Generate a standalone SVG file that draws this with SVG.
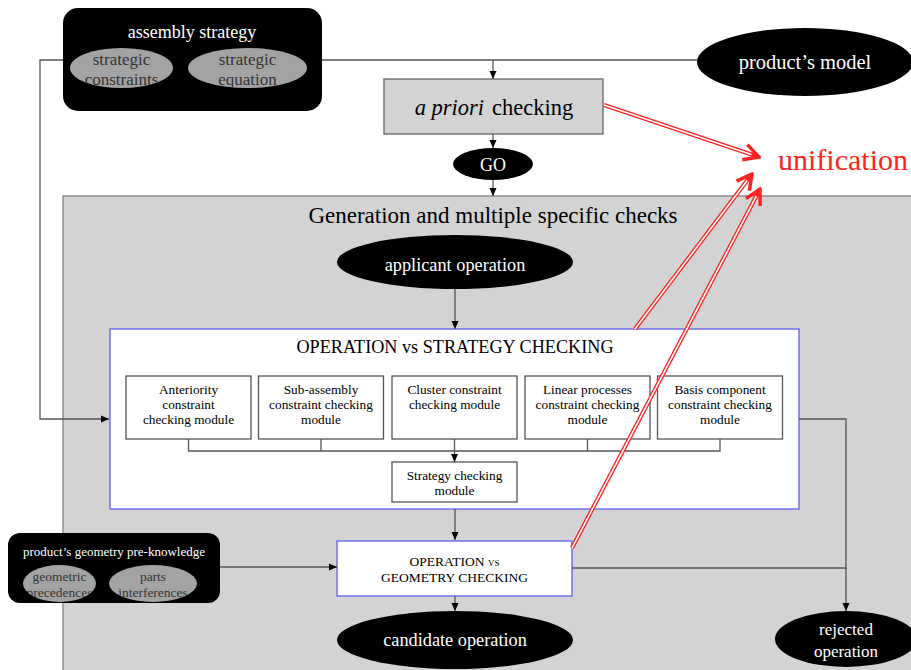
<svg xmlns="http://www.w3.org/2000/svg" width="911" height="670" viewBox="0 0 911 670" font-family="'Liberation Serif', Tinos, 'DejaVu Serif', 'Noto Serif', serif">
<style>
text{font-family:"Liberation Serif",Tinos,"DejaVu Serif","Noto Serif",serif;text-anchor:middle}
.blk{fill:#000}
.wt{fill:#fff}
.oval{fill:#a3a3a3}
.ot{fill:#333}
.mod{fill:#fff;stroke:#555;stroke-width:1.3}
.blue{fill:#fff;stroke:#7070f0;stroke-width:1.5}
.con{fill:none;stroke:#555;stroke-width:1.3}
.arr{marker-end:url(#ah)}
.rr{fill:none;stroke:#f22;stroke-width:4.2;marker-end:url(#ch)}
.rw{fill:none;stroke:#fff;stroke-width:1.6}
</style>
<defs>
<marker id="ah" viewBox="-9 -5 10 10" refX="0" refY="0" markerWidth="10" markerHeight="10" markerUnits="userSpaceOnUse" orient="auto">
<path d="M0,0 L-8,-3.5 L-8,3.5 Z" fill="#000"/>
</marker>
<marker id="ch" viewBox="-18 -11 20 22" refX="0" refY="0" markerWidth="20" markerHeight="22" markerUnits="userSpaceOnUse" orient="auto">
<path d="M-15,-8 L0,0 L-15,8" fill="none" stroke="#f22" stroke-width="3.5"/>
</marker>
<clipPath id="c1"><ellipse cx="121.5" cy="68" rx="51.5" ry="20"/></clipPath>
<clipPath id="c2"><ellipse cx="247.5" cy="68" rx="59.5" ry="20"/></clipPath>
<clipPath id="c3"><ellipse cx="59.5" cy="583.5" rx="36.5" ry="18.5"/></clipPath>
<clipPath id="c4"><ellipse cx="153" cy="583.5" rx="44" ry="18.5"/></clipPath>
</defs>

<rect width="911" height="670" fill="#fff"/>

<g id="generation-region">
<rect x="63" y="196" width="860" height="490" fill="#d3d3d3" stroke="#808080" stroke-width="1.3"/>
<text x="493" y="223" font-size="23">Generation and multiple specific checks</text>
</g>

<g id="assembly-strategy">
<rect x="63" y="8" width="259" height="103" rx="15" class="blk"/>
<text x="192" y="38" font-size="18" class="wt">assembly strategy</text>
<ellipse cx="121.5" cy="68" rx="51.5" ry="20" class="oval"/>
<ellipse cx="247.5" cy="68" rx="59.5" ry="20" class="oval"/>
<g clip-path="url(#c1)"><text x="121.5" y="65" font-size="17" class="ot">strategic</text><text x="121.5" y="85" font-size="17" class="ot">constraints</text></g>
<g clip-path="url(#c2)"><text x="247.5" y="65" font-size="17" class="ot">strategic</text><text x="247.5" y="85" font-size="17" class="ot">equation</text></g>
</g>

<g id="products-model">
<ellipse cx="805" cy="62" rx="108" ry="34" class="blk"/>
<text x="805" y="69" font-size="20.5" class="wt">product’s model</text>
</g>

<g id="a-priori-checking">
<rect x="384" y="79" width="219" height="55" fill="#d3d3d3" stroke="#666" stroke-width="1.3"/>
<text x="494" y="115" font-size="22.5"><tspan font-style="italic">a priori</tspan><tspan dx="8">checking</tspan></text>
</g>

<g id="go">
<ellipse cx="493" cy="164" rx="40" ry="16" class="blk"/>
<text x="493" y="171" font-size="18" class="wt">GO</text>
</g>

<g id="applicant-operation">
<ellipse cx="455" cy="262" rx="118" ry="27" class="blk"/>
<text x="455" y="271" font-size="18.3" class="wt">applicant operation</text>
</g>

<g id="operation-vs-strategy">
<rect x="110" y="329" width="689" height="180" class="blue"/>
<text x="455" y="353" font-size="18.2">OPERATION vs STRATEGY CHECKING</text>
</g>

<g id="anteriority-module">
<rect x="126" y="376" width="125" height="63" class="mod"/>
<text x="188.5" y="394" font-size="13.3">Anteriority</text>
<text x="188.5" y="409" font-size="13.3">constraint</text>
<text x="188.5" y="424" font-size="13.3">checking module</text>
</g>
<g id="subassembly-module">
<rect x="258.5" y="376" width="125" height="63" class="mod"/>
<text x="321" y="394" font-size="13.3">Sub-assembly</text>
<text x="321" y="409" font-size="13.3">constraint checking</text>
<text x="321" y="424" font-size="13.3">module</text>
</g>
<g id="cluster-module">
<rect x="392" y="376" width="125" height="63" class="mod"/>
<text x="454.5" y="394" font-size="13.3">Cluster constraint</text>
<text x="454.5" y="409" font-size="13.3">checking module</text>
</g>
<g id="linear-module">
<rect x="525" y="376" width="125" height="63" class="mod"/>
<text x="587.5" y="394" font-size="13.3">Linear processes</text>
<text x="587.5" y="409" font-size="13.3">constraint checking</text>
<text x="587.5" y="424" font-size="13.3">module</text>
</g>
<g id="basis-module">
<rect x="657.5" y="376" width="125" height="63" class="mod"/>
<text x="720" y="394" font-size="13.3">Basis component</text>
<text x="720" y="409" font-size="13.3">constraint checking</text>
<text x="720" y="424" font-size="13.3">module</text>
</g>
<g id="strategy-module">
<rect x="392" y="462" width="125" height="40" class="mod"/>
<text x="454.5" y="480" font-size="13.3">Strategy checking</text>
<text x="454.5" y="495" font-size="13.3">module</text>
</g>

<g id="geometry-knowledge">
<rect x="8" y="533" width="212" height="70" rx="12" class="blk"/>
<text x="114" y="556" font-size="13" class="wt">product’s geometry pre-knowledge</text>
<ellipse cx="59.5" cy="583.5" rx="36.5" ry="18.5" class="oval"/>
<ellipse cx="153" cy="583.5" rx="44" ry="18.5" class="oval"/>
<g clip-path="url(#c3)"><text x="59.5" y="581" font-size="13.5" class="ot">geometric</text><text x="59.5" y="597" font-size="13.5" class="ot">precedences</text></g>
<g clip-path="url(#c4)"><text x="153" y="581" font-size="13.5" class="ot">parts</text><text x="153" y="597" font-size="13.5" class="ot">interferences</text></g>
</g>

<g id="operation-vs-geometry">
<rect x="337" y="541" width="235" height="55" class="blue"/>
<text x="454.5" y="566" font-size="13.5">OPERATION <tspan font-variant="small-caps">vs</tspan></text>
<text x="454.5" y="582" font-size="13.5">GEOMETRY CHECKING</text>
</g>

<g id="candidate-operation">
<ellipse cx="455" cy="640" rx="118" ry="29" class="blk"/>
<text x="455" y="646" font-size="18.3" class="wt">candidate operation</text>
</g>

<g id="rejected-operation">
<ellipse cx="846" cy="639" rx="71" ry="28" class="blk"/>
<text x="846" y="635" font-size="17" class="wt">rejected</text>
<text x="846" y="657" font-size="17" class="wt">operation</text>
</g>

<g id="unification">
<text x="843" y="170" font-size="30" fill="#f22">unification</text>
</g>

<g id="connectors">
<path class="con" d="M63,60 H40 V419 H109" style="marker-end:url(#ah)"/>
<path class="con" d="M322,60 H697"/>
<path class="con arr" d="M493,60 V79"/>
<path class="con arr" d="M493,134 V148"/>
<path class="con arr" d="M493,180 V196"/>
<path class="con arr" d="M455,289 V329"/>
<path class="con" d="M188.5,439 V451 H720 V439 M321,439 V451 M587.5,439 V451"/>
<path class="con arr" d="M454.5,439 V462"/>
<path class="con arr" d="M455,509 V540"/>
<path class="con arr" d="M455,596 V611"/>
<path class="con arr" d="M220,567 H337"/>
<path class="con" d="M799,419 H846 V568 H572"/>
<path class="con arr" d="M846,568 V611"/>
</g>

<g id="red-connectors">
<path class="rr" d="M604,105 L759,157"/>
<path class="rw" d="M604,105 L751.4,154.5"/>
<path class="rr" d="M635,329 L752,174"/>
<path class="rw" d="M635,329 L747.2,180.4"/>
<path class="rr" d="M572,548 L760,189"/>
<path class="rw" d="M572,548 L756.3,196.1"/>
</g>
</svg>
